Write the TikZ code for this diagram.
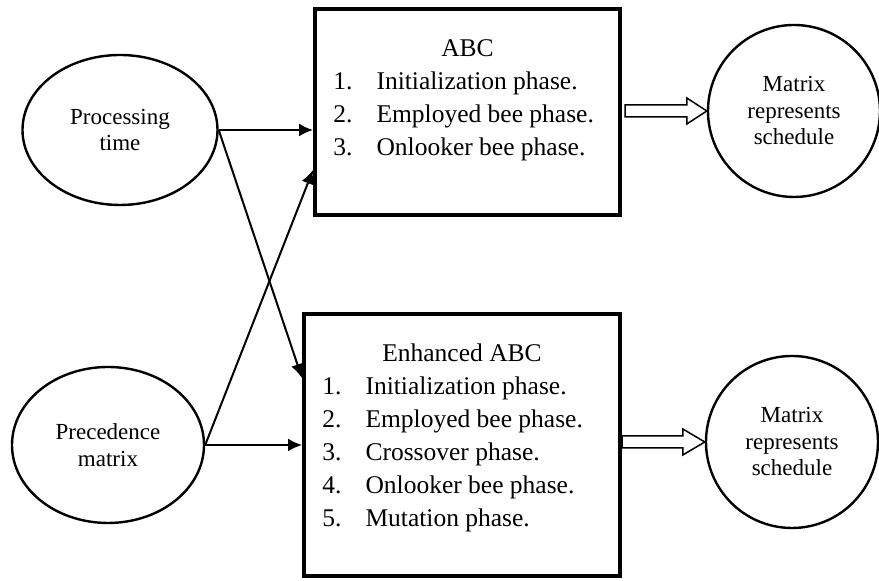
\documentclass[tikz,border=0pt]{standalone}
\usepackage{fontspec}
\setmainfont{Liberation Serif}
\usetikzlibrary{positioning}
\usetikzlibrary{arrows.meta}
\usetikzlibrary{shapes.geometric}
\usetikzlibrary{calc}

\newcommand{\boxfont}{\fontsize{12.75}{16.5}\selectfont}
\newcommand{\bubblefont}{\fontsize{11.5}{13.25}\selectfont}

\begin{document}
\begin{tikzpicture}[x=0.5pt,y=0.5pt,>={Latex[length=7pt,width=6.5pt]},
	input/.style={ellipse,draw,line width=1.2pt,align=center,inner sep=0pt,font=\bubblefont},
	output/.style={circle,draw,line width=1.2pt,minimum size=86pt,align=center,inner sep=0pt,font=\bubblefont},
	algo/.style={draw,line width=2pt,inner sep=0pt},
	title/.style={anchor=base,inner sep=0pt,font=\boxfont},
	steps/.style={anchor=base west,inner sep=0pt,font=\boxfont},
	link/.style={->,line width=1pt},
	hollow/.style={line width=0.75pt}]
	\useasboundingbox (0,0) rectangle (879,581);

	\node [input,minimum width=97.5pt,minimum height=75pt] at (120,451) (proc) {Processing\\time};
	\node [input,minimum width=96pt,minimum height=78pt] at (108,136) (prec) {Precedence\\matrix};

	\node [algo,minimum width=152.5pt,minimum height=103pt] at (467.5,469) (abc) {};
	\node [title] at ($(abc.north)+(0,-50)$) (abc_title) {ABC};
	\node [steps] at ($(abc.north west)+(20,-83)$) (abc_steps) {\begin{tabular}[t]{@{}l@{\hspace{12pt}}l@{}}
		1.&Initialization phase.\\
		2.&Employed bee phase.\\
		3.&Onlooker bee phase.
	\end{tabular}};

	\node [algo,minimum width=158pt,minimum height=131pt] at (462,136) (eabc) {};
	\node [title] at ($(eabc.north)+(0,-50)$) (eabc_title) {Enhanced ABC};
	\node [steps] at ($(eabc.north west)+(20,-83)$) (eabc_steps) {\begin{tabular}[t]{@{}l@{\hspace{12pt}}l@{}}
		1.&Initialization phase.\\
		2.&Employed bee phase.\\
		3.&Crossover phase.\\
		4.&Onlooker bee phase.\\
		5.&Mutation phase.
	\end{tabular}};

	\node [output] at (794,470) (res1) {Matrix\\represents\\schedule};
	\node [output] at (792,139) (res2) {Matrix\\represents\\schedule};

	\draw[link] (proc.east) -- (proc.east-|abc.west);
	\draw[link] (proc.east) -- ($(eabc.north west)+(0,-66)$);
	\draw[link] (prec.east) -- ($(abc.south west)+(0,47)$);
	\draw[link] (prec.east) -- (prec.east-|eabc.west);

	\draw[hollow] ($(abc.east|-res1.west)+(3,6)$) -- ($(res1.west)+(-20,6)$) -- ($(res1.west)+(-20,13)$) -- (res1.west)
		-- ($(res1.west)+(-20,-13)$) -- ($(res1.west)+(-20,-6)$) -- ($(abc.east|-res1.west)+(3,-6)$) -- cycle;
	\draw[hollow] ($(eabc.east|-res2.west)+(0,6)$) -- ($(res2.west)+(-22,6)$) -- ($(res2.west)+(-22,13)$) -- (res2.west)
		-- ($(res2.west)+(-22,-13)$) -- ($(res2.west)+(-22,-6)$) -- ($(eabc.east|-res2.west)+(0,-6)$) -- cycle;
\end{tikzpicture}
\end{document}
